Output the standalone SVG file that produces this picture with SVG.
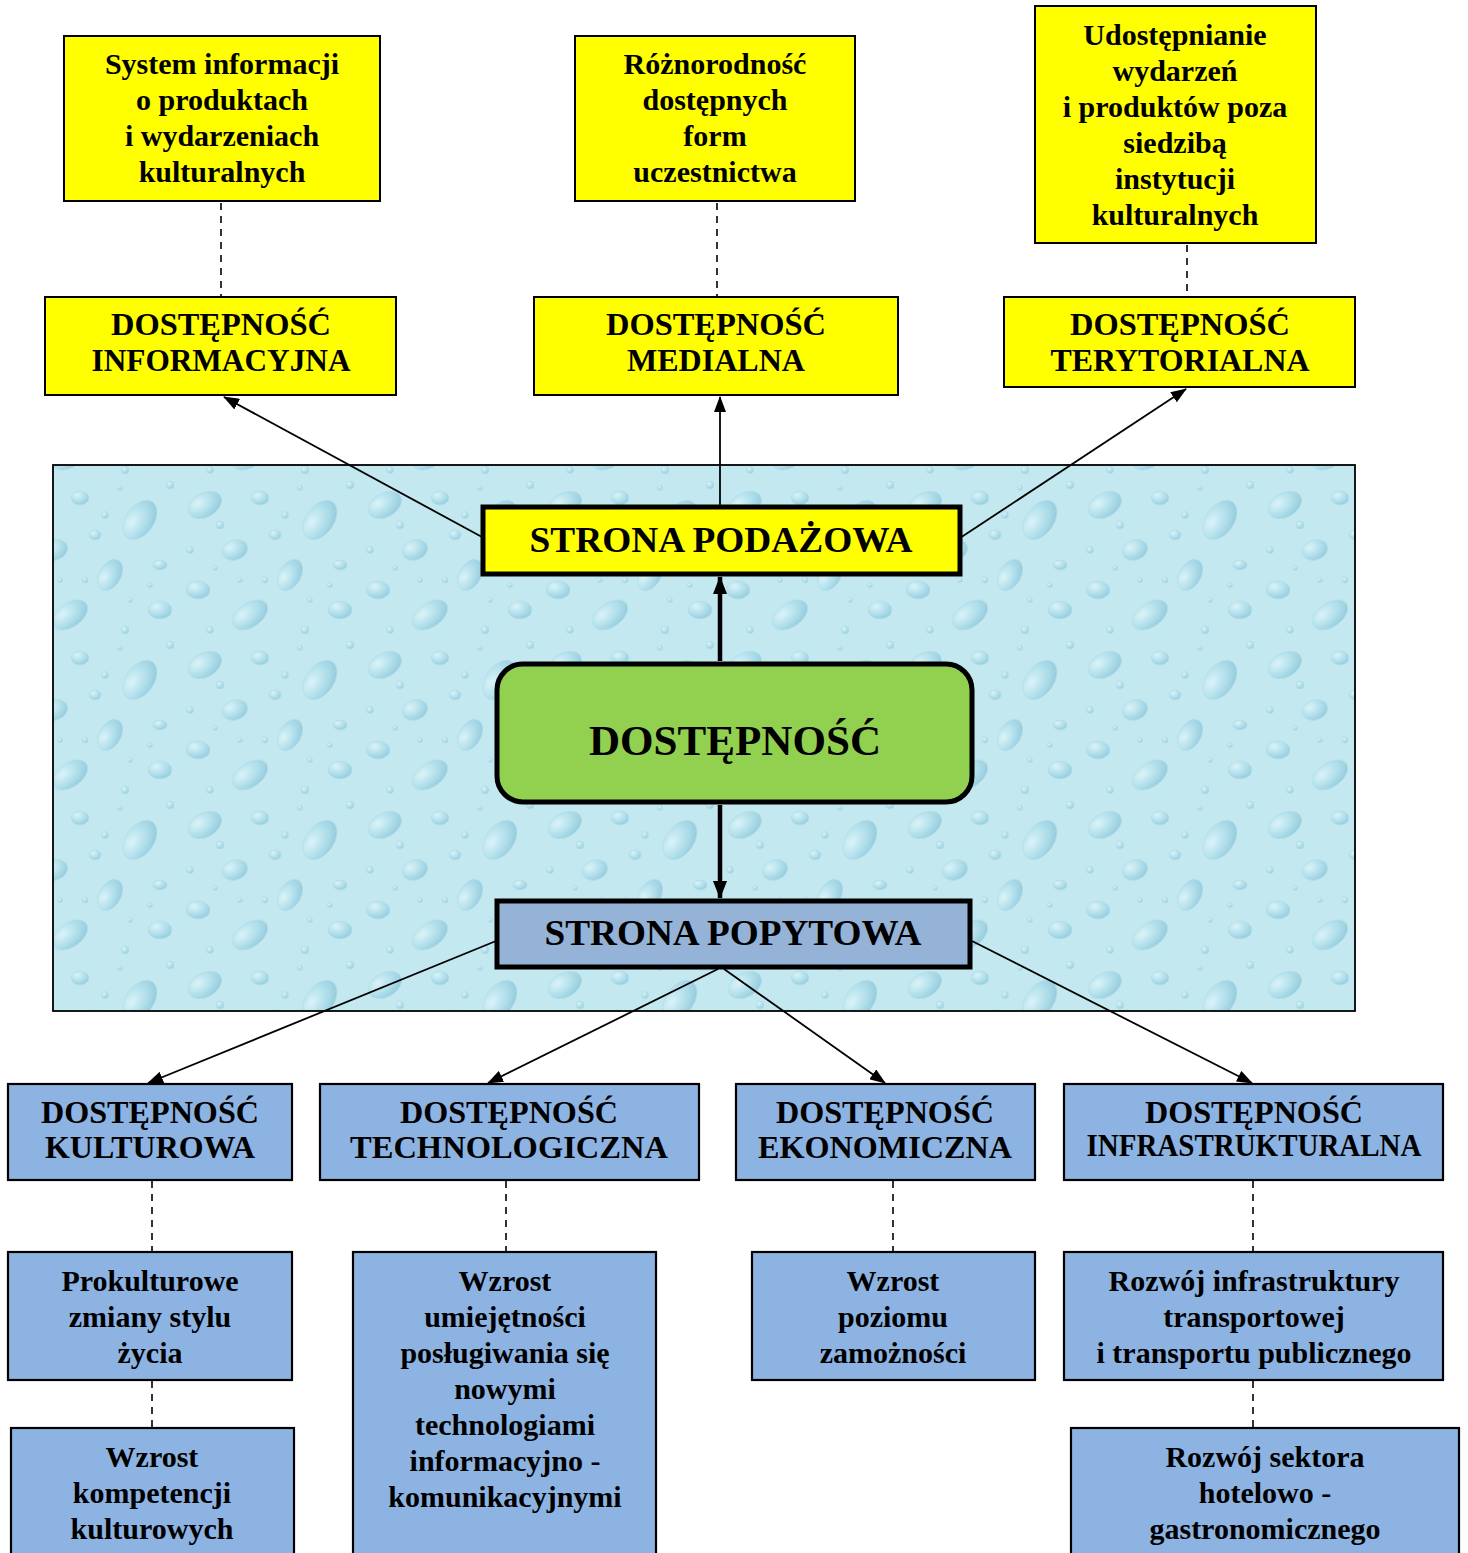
<svg xmlns="http://www.w3.org/2000/svg" width="1468" height="1553" viewBox="0 0 1468 1553">
<style>
text{font-family:"Liberation Serif","DejaVu Serif","Times New Roman",serif;font-weight:bold;fill:#000;text-anchor:middle}
.lc{font-size:30px}
.cap{font-size:31px}
.big{font-size:35px}
.ybox{fill:#ffff00;stroke:#000;stroke-width:2}
.bbox{fill:#8db3e2;stroke:#000;stroke-width:2.2}
.dash{stroke:#000;stroke-width:1.6;stroke-dasharray:7,6;fill:none}
.thin{stroke:#000;stroke-width:1.8;fill:none}
.thick{stroke:#000;stroke-width:4.5;fill:none}
</style>
<defs>
<marker id="ah" markerUnits="userSpaceOnUse" markerWidth="16" markerHeight="12" refX="15" refY="6" orient="auto">
<path d="M0,0 L16,6 L0,12 z" fill="#000"/>
</marker>
<marker id="ahT" markerUnits="userSpaceOnUse" markerWidth="18" markerHeight="14" refX="17" refY="7" orient="auto">
<path d="M0,0 L18,7 L0,14 z" fill="#000"/>
</marker>
<radialGradient id="drop" cx="0.35" cy="0.3" r="0.75">
<stop offset="0" stop-color="#eefbfe"/>
<stop offset="0.5" stop-color="#a9dbea"/>
<stop offset="1" stop-color="#6fb3cf"/>
</radialGradient>
<pattern id="water" patternUnits="userSpaceOnUse" width="180" height="160">
<rect width="180" height="160" fill="#c3e8f0"/>
<g fill="url(#drop)" stroke="#a6d6e4" stroke-width="0.8" opacity="0.55">
<ellipse cx="25" cy="25" rx="18" ry="12" transform="rotate(-30 25 25)"/>
<ellipse cx="80" cy="18" rx="9" ry="7"/>
<ellipse cx="140" cy="40" rx="22" ry="14" transform="rotate(-55 140 40)"/>
<ellipse cx="55" cy="70" rx="13" ry="10" transform="rotate(-20 55 70)"/>
<ellipse cx="110" cy="95" rx="17" ry="11" transform="rotate(-60 110 95)"/>
<ellipse cx="18" cy="110" rx="12" ry="9"/>
<ellipse cx="70" cy="135" rx="20" ry="12" transform="rotate(-35 70 135)"/>
<ellipse cx="160" cy="130" rx="12" ry="9"/>
<ellipse cx="160" cy="85" rx="7" ry="5"/>
<ellipse cx="95" cy="55" rx="6" ry="5"/>
<circle cx="40" cy="45" r="4"/>
<circle cx="105" cy="35" r="3.5"/>
<circle cx="170" cy="5" r="4"/>
<circle cx="30" cy="150" r="3.5"/>
<circle cx="125" cy="150" r="4"/>
<circle cx="85" cy="100" r="3"/>
<circle cx="10" cy="70" r="3.5"/>
<circle cx="130" cy="120" r="2.5"/>
<circle cx="60" cy="100" r="2.5"/>
<circle cx="150" cy="105" r="2.5"/>
<circle cx="35" cy="88" r="2.5"/>
<circle cx="120" cy="8" r="2.5"/>
</g>
</pattern>
</defs>

<g id="background">
<rect x="53" y="465" width="1302" height="546" fill="url(#water)" stroke="#000" stroke-width="1.8"/>
</g>

<g id="connectors">
<line class="dash" x1="221" y1="203" x2="221" y2="297"/>
<line class="dash" x1="717" y1="203" x2="717" y2="297"/>
<line class="dash" x1="1187" y1="245" x2="1187" y2="297"/>
<line class="thin" x1="482" y1="537" x2="224" y2="397" marker-end="url(#ah)"/>
<line class="thin" x1="720" y1="506" x2="720" y2="397" marker-end="url(#ah)"/>
<line class="thin" x1="960" y1="538" x2="1186" y2="389" marker-end="url(#ah)"/>
<line class="thick" x1="720" y1="661" x2="720" y2="577" marker-end="url(#ahT)"/>
<line class="thick" x1="720" y1="805" x2="720" y2="898" marker-end="url(#ahT)"/>
<line class="thin" x1="496" y1="941" x2="148" y2="1083" marker-end="url(#ah)"/>
<line class="thin" x1="718" y1="969" x2="488" y2="1083" marker-end="url(#ah)"/>
<line class="thin" x1="724" y1="969" x2="885" y2="1083" marker-end="url(#ah)"/>
<line class="thin" x1="972" y1="941" x2="1252" y2="1083" marker-end="url(#ah)"/>
<line class="dash" x1="152" y1="1181" x2="152" y2="1252"/>
<line class="dash" x1="506" y1="1181" x2="506" y2="1252"/>
<line class="dash" x1="893" y1="1181" x2="893" y2="1252"/>
<line class="dash" x1="1253" y1="1181" x2="1253" y2="1252"/>
<line class="dash" x1="152" y1="1381" x2="152" y2="1428"/>
<line class="dash" x1="1253" y1="1381" x2="1253" y2="1428"/>
</g>

<g id="n-system">
<rect class="ybox" x="64" y="36" width="316" height="165"/>
<text class="lc" x="222" y="74">System informacji</text>
<text class="lc" x="222" y="110">o produktach</text>
<text class="lc" x="222" y="146">i wydarzeniach</text>
<text class="lc" x="222" y="182">kulturalnych</text>
</g>
<g id="n-roznorodnosc">
<rect class="ybox" x="575" y="36" width="280" height="165"/>
<text class="lc" x="715" y="74">Różnorodność</text>
<text class="lc" x="715" y="110">dostępnych</text>
<text class="lc" x="715" y="146">form</text>
<text class="lc" x="715" y="182">uczestnictwa</text>
</g>
<g id="n-udostepnianie">
<rect class="ybox" x="1035" y="6" width="281" height="237"/>
<text class="lc" x="1175" y="45">Udostępnianie</text>
<text class="lc" x="1175" y="81">wydarzeń</text>
<text class="lc" x="1175" y="117">i produktów poza</text>
<text class="lc" x="1175" y="153">siedzibą</text>
<text class="lc" x="1175" y="189">instytucji</text>
<text class="lc" x="1175" y="225">kulturalnych</text>
</g>

<g id="n-informacyjna">
<rect class="ybox" x="45" y="297" width="351" height="98"/>
<text class="cap" x="221" y="335" textLength="220" lengthAdjust="spacingAndGlyphs">DOSTĘPNOŚĆ</text>
<text class="cap" x="221" y="371" textLength="259" lengthAdjust="spacingAndGlyphs">INFORMACYJNA</text>
</g>
<g id="n-medialna">
<rect class="ybox" x="534" y="297" width="364" height="98"/>
<text class="cap" x="716" y="335" textLength="220" lengthAdjust="spacingAndGlyphs">DOSTĘPNOŚĆ</text>
<text class="cap" x="716" y="371" textLength="178" lengthAdjust="spacingAndGlyphs">MEDIALNA</text>
</g>
<g id="n-terytorialna">
<rect class="ybox" x="1004" y="297" width="351" height="90"/>
<text class="cap" x="1180" y="335" textLength="220" lengthAdjust="spacingAndGlyphs">DOSTĘPNOŚĆ</text>
<text class="cap" x="1180" y="371" textLength="259" lengthAdjust="spacingAndGlyphs">TERYTORIALNA</text>
</g>

<g id="n-podazowa">
<rect x="483" y="507" width="477" height="67" fill="#ffff00" stroke="#000" stroke-width="5"/>
<text class="big" x="721" y="552" textLength="383" lengthAdjust="spacingAndGlyphs">STRONA PODAŻOWA</text>
</g>
<g id="n-dostepnosc">
<rect x="497" y="664" width="475" height="138" rx="26" ry="26" fill="#92d050" stroke="#000" stroke-width="5"/>
<text x="735" y="755" font-size="42" textLength="292" lengthAdjust="spacingAndGlyphs">DOSTĘPNOŚĆ</text>
</g>
<g id="n-popytowa">
<rect x="497" y="901" width="473" height="66" fill="#95b3d7" stroke="#000" stroke-width="5"/>
<text class="big" x="733" y="945" textLength="377" lengthAdjust="spacingAndGlyphs">STRONA POPYTOWA</text>
</g>

<g id="n-kulturowa">
<rect class="bbox" x="8" y="1084" width="284" height="96"/>
<text class="cap" x="150" y="1123" textLength="218" lengthAdjust="spacingAndGlyphs">DOSTĘPNOŚĆ</text>
<text class="cap" x="150" y="1158" textLength="210" lengthAdjust="spacingAndGlyphs">KULTUROWA</text>
</g>
<g id="n-technologiczna">
<rect class="bbox" x="320" y="1084" width="379" height="96"/>
<text class="cap" x="509" y="1123" textLength="218" lengthAdjust="spacingAndGlyphs">DOSTĘPNOŚĆ</text>
<text class="cap" x="509" y="1158" textLength="318" lengthAdjust="spacingAndGlyphs">TECHNOLOGICZNA</text>
</g>
<g id="n-ekonomiczna">
<rect class="bbox" x="736" y="1084" width="299" height="96"/>
<text class="cap" x="885" y="1123" textLength="218" lengthAdjust="spacingAndGlyphs">DOSTĘPNOŚĆ</text>
<text class="cap" x="885" y="1158" textLength="254" lengthAdjust="spacingAndGlyphs">EKONOMICZNA</text>
</g>
<g id="n-infrastrukturalna">
<rect class="bbox" x="1064" y="1084" width="379" height="96"/>
<text class="cap" x="1254" y="1123" textLength="218" lengthAdjust="spacingAndGlyphs">DOSTĘPNOŚĆ</text>
<text class="cap" x="1254" y="1156" font-size="28" textLength="335" lengthAdjust="spacingAndGlyphs">INFRASTRUKTURALNA</text>
</g>

<g id="n-prokulturowe">
<rect class="bbox" x="8" y="1252" width="284" height="128"/>
<text class="lc" x="150" y="1291">Prokulturowe</text>
<text class="lc" x="150" y="1327">zmiany stylu</text>
<text class="lc" x="150" y="1363">życia</text>
</g>
<g id="n-umiejetnosci">
<rect class="bbox" x="353" y="1252" width="303" height="310"/>
<text class="lc" x="505" y="1291">Wzrost</text>
<text class="lc" x="505" y="1327">umiejętności</text>
<text class="lc" x="505" y="1363">posługiwania się</text>
<text class="lc" x="505" y="1399">nowymi</text>
<text class="lc" x="505" y="1435">technologiami</text>
<text class="lc" x="505" y="1471">informacyjno -</text>
<text class="lc" x="505" y="1507">komunikacyjnymi</text>
</g>
<g id="n-zamoznosci">
<rect class="bbox" x="752" y="1252" width="283" height="128"/>
<text class="lc" x="893" y="1291">Wzrost</text>
<text class="lc" x="893" y="1327">poziomu</text>
<text class="lc" x="893" y="1363">zamożności</text>
</g>
<g id="n-infrastruktura">
<rect class="bbox" x="1064" y="1252" width="379" height="128"/>
<text class="lc" x="1254" y="1291">Rozwój infrastruktury</text>
<text class="lc" x="1254" y="1327">transportowej</text>
<text class="lc" x="1254" y="1363">i transportu publicznego</text>
</g>
<g id="n-kompetencji">
<rect class="bbox" x="11" y="1428" width="283" height="134"/>
<text class="lc" x="152" y="1467">Wzrost</text>
<text class="lc" x="152" y="1503">kompetencji</text>
<text class="lc" x="152" y="1539">kulturowych</text>
</g>
<g id="n-hotelowo">
<rect class="bbox" x="1071" y="1428" width="388" height="134"/>
<text class="lc" x="1265" y="1467">Rozwój sektora</text>
<text class="lc" x="1265" y="1503">hotelowo -</text>
<text class="lc" x="1265" y="1539">gastronomicznego</text>
</g>
</svg>
